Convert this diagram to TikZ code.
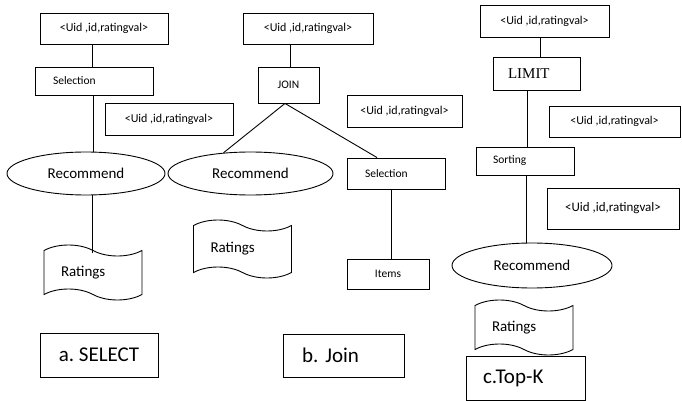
\documentclass[tikz,border=0pt]{standalone}
\usepackage{fontspec}
\setmainfont{Carlito}
\newfontfamily\serifface{Liberation Serif}
\frenchspacing
\usetikzlibrary{calc, positioning, shapes.geometric, shapes.symbols}
\tikzset{
  every node/.style={inner sep=1pt}, % keeps the boxes tight
  tuplebox/.style={draw, rectangle, line width=0.9pt, font=\fontsize{12}{14}\selectfont}, % output schema boxes
  opbox/.style={draw, rectangle, line width=0.9pt, font=\fontsize{11.5}{13}\selectfont}, % operator boxes
  recnode/.style={draw, ellipse, line width=0.9pt, inner sep=0pt, font=\fontsize{15}{17}\selectfont}, % the recommend operator
  relnode/.style={draw, tape, line width=0.9pt, inner ysep=0pt, inner xsep=17pt, text width=64pt, align=left,
    tape bend top=out and in, tape bend bottom=out and in, tape bend height=11pt,
    font=\fontsize{15}{17}\selectfont}, % stored relations
  capbox/.style={draw, rectangle, line width=0.9pt, font=\fontsize{21}{24}\selectfont}, % panel captions
  edge/.style={line width=0.9pt}, % plain connectors
}

\begin{document}
\begin{tikzpicture}[x=1pt, y=-1pt]
  \useasboundingbox (0,0) rectangle (682,401);

  % a. SELECT
  \node[tuplebox, minimum width=128pt, minimum height=31pt] (A1) at (104,28.5) {<Uid ,id,ratingval>};
  \node[opbox, minimum width=118pt, minimum height=28pt, inner xsep=18pt, text width=82pt, align=left] (selA) at (94,81) {Selection};
  \node[tuplebox, minimum width=128pt, minimum height=32pt] (A2) at (169,119) {<Uid ,id,ratingval>};
  \node[recnode, minimum width=158pt, minimum height=43pt] (recA) at (86,173.5) {Recommend};
  \node[relnode, minimum height=55pt] (ratA) at (93,272.5) {Ratings};
  \node[capbox, minimum width=118pt, minimum height=44pt] (capA) at (99,355) {a. SELECT};
  \draw[edge] ($(A1.south)+(-12,0)$) -- ($(selA.north)+(-2,0)$);
  \draw[edge] ($(selA.south)+(-1,0)$) -- ($(recA.north)+(7,0)$);
  \draw[edge] ($(recA.south)+(6,0)$) -- ($(ratA.north)+(-1,3)$);

  % b. Join
  \node[tuplebox, minimum width=130pt, minimum height=31pt] (B1) at (308,28.5) {<Uid ,id,ratingval>};
  \node[opbox, minimum width=61pt, minimum height=36pt] (join) at (288.5,85) {JOIN};
  \node[tuplebox, minimum width=115pt, minimum height=32pt] (B2) at (404.5,111) {<Uid ,id,ratingval>};
  \node[recnode, minimum width=165pt, minimum height=43pt] (recB) at (250.5,173.5) {Recommend};
  \node[opbox, minimum width=98pt, minimum height=31pt, inner xsep=18pt, text width=62pt, align=left] (selB) at (396,173.5) {Selection};
  \node[opbox, minimum width=82pt, minimum height=30pt] (items) at (388,274) {Items};
  \node[relnode, minimum height=58pt] (ratB) at (242.5,249) {Ratings};
  \node[capbox, minimum width=121pt, minimum height=43pt, inner xsep=19pt, text width=83pt, align=left] (capB) at (343.5,355.5) {b. Join};
  \draw[edge] ($(B1.south)+(-18,0)$) -- ($(join.north)+(1.5,0)$);
  \draw[edge] ($(join.south)+(-3.5,0)$) -- ($(recB.north)+(-27,1.2)$);
  \draw[edge] ($(join.south)+(-3.5,0)$) -- ($(selB.north)+(-19,0)$);
  \draw[edge] ($(selB.south)+(-5,0)$) -- ($(items.north)+(3,0)$);

  % c. Top-K
  \node[tuplebox, minimum width=129pt, minimum height=32pt] (C1) at (544.5,21) {<Uid ,id,ratingval>};
  \node[opbox, minimum width=87pt, minimum height=33pt, inner xsep=15pt, text width=57pt, align=left, font=\serifface\fontsize{15}{17}\selectfont] (limit) at (536.5,73.5) {LIMIT};
  \node[tuplebox, minimum width=131pt, minimum height=31pt] (C2) at (614.5,121.5) {<Uid ,id,ratingval>};
  \node[opbox, minimum width=98pt, minimum height=28pt, inner xsep=17pt, text width=64pt, align=left] (sort) at (525,161) {Sorting};
  \node[tuplebox, minimum width=132pt, minimum height=41pt, font=\fontsize{13}{15}\selectfont] (C3) at (613,208.5) {<Uid ,id,ratingval>};
  \node[recnode, minimum width=160pt, minimum height=45pt] (recC) at (532,265.5) {Recommend};
  \node[relnode, minimum height=55pt] (ratC) at (524,327.5) {Ratings};
  \node[capbox, minimum width=119pt, minimum height=44pt, inner xsep=17pt, text width=85pt, align=left] (capC) at (525.5,378) {c.Top-K};
  \draw[edge] ($(C1.south)+(-4.5,0)$) -- ($(limit.north)+(3.5,0)$);
  \draw[edge] ($(limit.south)+(-9.5,0)$) -- ($(sort.north)+(2,0)$);
  \draw[edge] ($(sort.south)+(1,0)$) -- ($(recC.north)+(-6,0)$);
\end{tikzpicture}
\end{document}
